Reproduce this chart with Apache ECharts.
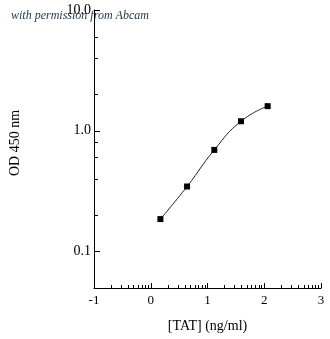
<!DOCTYPE html>
<html>
<head>
<meta charset="utf-8">
<script src="https://cdn.jsdelivr.net/npm/echarts@6/dist/echarts.min.js"></script>
<style>
  html, body { margin: 0; padding: 0; background: #fff; }
  #chart { width: 330px; height: 339px; }
</style>
</head>
<body>
<div id="chart"></div>
<script>
  // log10 [TAT] and OD readings
  var logConc = [0.17, 0.64, 1.12, 1.59, 2.06];
  var odValues = [0.186, 0.346, 0.695, 1.20, 1.60];
  var xMajorTicks = [-1, 0, 1, 2, 3];
  var yMajorTicks = [0.1, 1, 10];
  var yMinorTicks = [0.2, 0.4, 0.6, 0.8, 2, 4, 6];

  // minor x ticks at log positions 2..9 within each decade
  var xMinorTicks = [];
  for (var d = -1; d < 3; d++) {
    for (var k = 2; k <= 9; k++) xMinorTicks.push(d + Math.log10(k));
  }

  var serif = '"Liberation Serif", "Times New Roman", serif';
  var dom = document.getElementById('chart');
  var myChart = echarts.init(dom);

  var pts = logConc.map(function (x, i) { return [x, odValues[i]]; });

  var option = {
    animation: false,
    grid: { left: 92, right: 9, top: 10, bottom: 51, containLabel: false },
    xAxis: [
      {
        type: 'value', min: -1, max: 3, interval: 1,
        name: '[TAT] (ng/ml)', nameLocation: 'middle', nameGap: 31,
        nameTextStyle: { fontFamily: serif, fontSize: 14, color: '#000' },
        axisLine: { show: true, onZero: false, lineStyle: { color: '#000', width: 1 } },
        axisTick: { show: true, inside: true, length: 5, customValues: xMajorTicks, lineStyle: { color: '#000' } },
        axisLabel: { fontFamily: serif, fontSize: 13, color: '#000', margin: 6, customValues: xMajorTicks },
        splitLine: { show: false }
      },
      {
        type: 'value', min: -1, max: 3, position: 'bottom',
        axisLine: { show: false, onZero: false },
        axisTick: { show: true, inside: true, length: 3, customValues: xMinorTicks, lineStyle: { color: '#000' } },
        axisLabel: { show: false },
        splitLine: { show: false }
      }
    ],
    yAxis: [
      {
        type: 'log', logBase: 10, min: 0.05, max: 10,
        name: 'OD 450 nm', nameLocation: 'middle', nameGap: 72,
        nameTextStyle: { fontFamily: serif, fontSize: 14, color: '#000', padding: [0, 0, 0, 12] },
        axisLine: { show: true, onZero: false, lineStyle: { color: '#000', width: 1 } },
        axisTick: { show: true, inside: true, length: 6, customValues: yMajorTicks, lineStyle: { color: '#000' } },
        axisLabel: {
          fontFamily: serif, fontSize: 14, color: '#000', margin: 3,
          customValues: yMajorTicks,
          formatter: function (v) { return Number(v).toFixed(1); }
        },
        splitLine: { show: false }
      },
      {
        type: 'log', logBase: 10, min: 0.05, max: 10, position: 'left',
        axisLine: { show: false, onZero: false },
        axisTick: { show: true, inside: true, length: 4, customValues: yMinorTicks, lineStyle: { color: '#000' } },
        axisLabel: { show: false },
        splitLine: { show: false }
      }
    ],
    series: [
      {
        type: 'line',
        data: pts,
        smooth: 0.5,
        symbol: 'rect',
        symbolSize: 6,
        itemStyle: { color: '#000' },
        lineStyle: { color: '#222', width: 1 }
      }
    ],
    graphic: [
      {
        type: 'text', left: 11, top: 10,
        style: {
          text: 'with permission from Abcam',
          font: 'italic 12px ' + serif,
          fill: '#1c3553'
        }
      }
    ]
  };
  myChart.setOption(option, true);
</script>
</body>
</html>
